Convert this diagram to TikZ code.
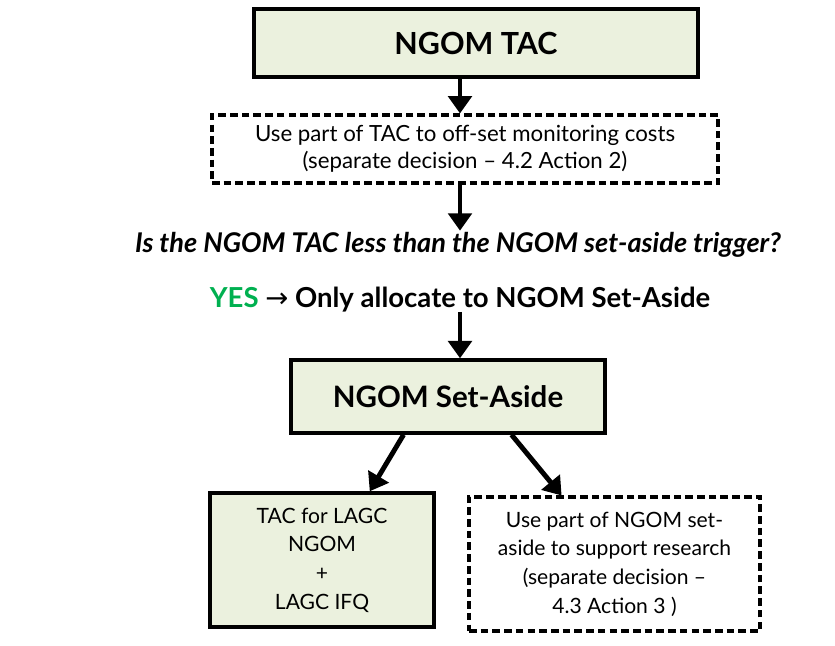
\documentclass[tikz,border=0pt]{standalone}
\usepackage{fontspec}
\setmainfont{Lato}
\newfontfamily\arrowfont{DejaVu Sans}
\usetikzlibrary{positioning,arrows.meta,calc}

\definecolor{boxgreen}{HTML}{EBF1DE}
\definecolor{yesgreen}{HTML}{00B050}

\tikzset{
  greenbox/.style={draw=black, line width=2.9pt, fill=boxgreen, align=center},
  dashbox/.style={draw=black, line width=2.6pt, dash pattern=on 6.5pt off 3.5pt, fill=white, align=center},
  bigarrow/.style={line width=4.2pt, -{Triangle[length=0.52cm,width=0.7cm]}},
}

\begin{document}
\begin{tikzpicture}

    \useasboundingbox (0,0) rectangle (25.05,-19.38);

    % --- top of the chain ---
    \node[greenbox, minimum width=13.32cm, minimum height=2.04cm,
          font=\fontsize{26}{30}\selectfont\bfseries] (tac) at (14.28,-1.29) {NGOM TAC};

    \node[dashbox, minimum width=15.18cm, minimum height=2.04cm,
          font=\fontsize{19}{23}\selectfont] (cost) at (13.95,-4.47)
          {Use part of TAC to off-set monitoring costs\\(separate decision -- 4.2 Action 2)};

    % --- the question and the answer ---
    \node[font=\fontsize{23.2}{26}\selectfont\bfseries\itshape] (ask) at (13.74,-7.35)
          {Is the NGOM TAC less than the NGOM set-aside trigger?};

    \node[font=\fontsize{23.5}{26}\selectfont\bfseries] (yes) at (13.8,-9.0)
          {\textcolor{yesgreen}{YES} {\arrowfont\mdseries→} Only allocate to NGOM Set-Aside};

    % --- set-aside and what it splits into ---
    \node[greenbox, minimum width=9.42cm, minimum height=2.19cm,
          font=\fontsize{25.2}{30}\selectfont\bfseries] (aside) at (13.44,-11.895) {NGOM Set-Aside};

    \begin{scope}[every node/.style={font=\fontsize{18}{24.5}\selectfont}]
      \node[greenbox, minimum width=6.72cm, minimum height=4.02cm] (lagc) at (9.66,-16.8)
            {TAC for LAGC\\NGOM\\+\\LAGC IFQ};

      \node[dashbox, minimum width=8.73cm, minimum height=4.02cm] (research) at (18.435,-16.92)
            {Use part of NGOM set-\\aside to support research\\(separate decision --\\4.3 Action 3 )};
    \end{scope}

    % --- arrows ---
    \draw[bigarrow] (tac.south -| yes) -- (cost.north -| yes);
    \draw[bigarrow] (cost.south -| yes) -- ([yshift=-2pt]ask.north -| yes);
    \draw[bigarrow] ([yshift=4pt]yes.south) -- (aside.north -| yes);
    \draw[bigarrow] ($(aside.south west)!0.36!(aside.south east)$) -- ($(lagc.north west)!0.71!(lagc.north east)$);
    \draw[bigarrow] ($(aside.south west)!0.70!(aside.south east)$) -- ($(research.north west)!0.32!(research.north east)$);

\end{tikzpicture}
\end{document}
